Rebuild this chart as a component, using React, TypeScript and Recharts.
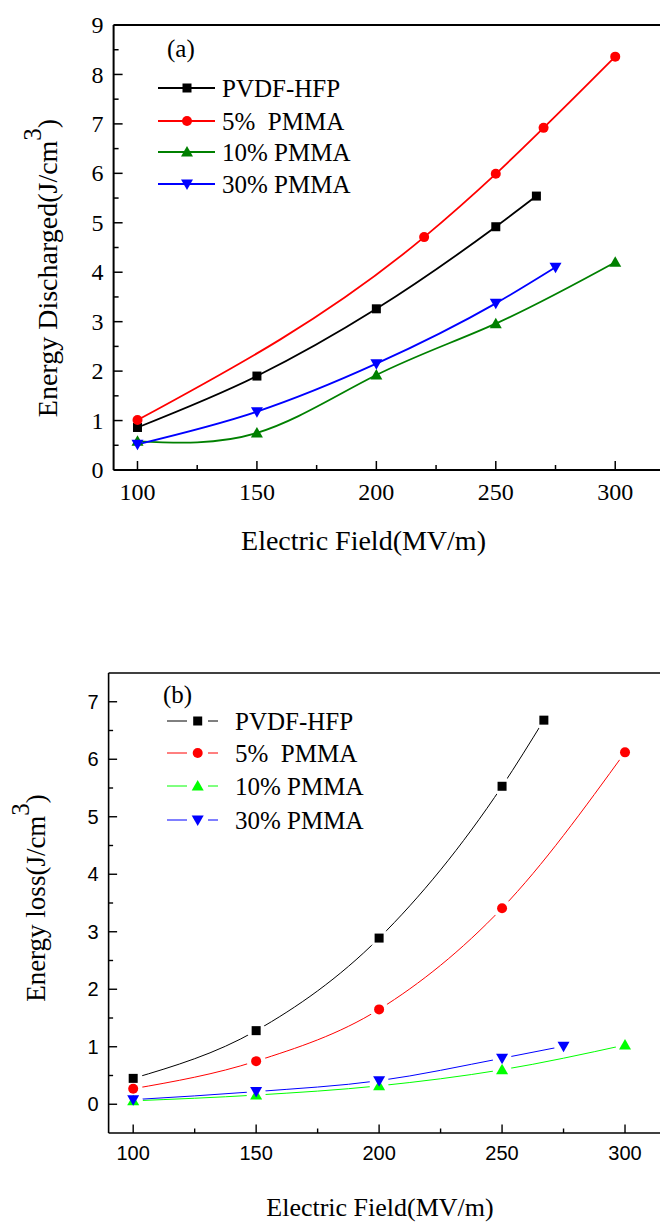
import React from 'react';
import { LineChart, Line, XAxis, YAxis, Legend } from 'recharts';

const SERIF = '"Liberation Serif", "Times New Roman", serif';
const SANS = '"Liberation Sans", Arial, sans-serif';

const seriesNames = ['PVDF-HFP', '5%  PMMA', '10% PMMA', '30% PMMA'];
const markerShapes = ['square', 'circle', 'up', 'down'];
const colorsA = ['#000000', '#ff0000', '#008000', '#0000ff'];
const colorsB = ['#000000', '#ff0000', '#00ff00', '#0000ff'];
const curvesA = ['monotone', 'monotone', 'natural', 'monotone'];
const curvesB = ['monotone', 'monotone', 'monotone', 'monotone'];

// (a) energy discharged
const fieldA_pvdf = [100, 150, 200, 250, 267];
const energyA_pvdf = [0.86, 1.9, 3.26, 4.92, 5.54];
const fieldA_5 = [100, 220, 250, 270, 300];
const energyA_5 = [1.01, 4.71, 5.99, 6.92, 8.36];
const fieldA_10 = [100, 150, 200, 250, 300];
const energyA_10 = [0.58, 0.75, 1.92, 2.96, 4.2];
const fieldA_30 = [100, 150, 200, 250, 275];
const energyA_30 = [0.52, 1.18, 2.15, 3.37, 4.1];

// (b) energy loss
const fieldB_pvdf = [100, 150, 200, 250, 267];
const lossB_pvdf = [0.45, 1.28, 2.89, 5.53, 6.68];
const fieldB_5 = [100, 150, 200, 250, 300];
const lossB_5 = [0.27, 0.75, 1.65, 3.41, 6.12];
const fieldB_10 = [100, 150, 200, 250, 300];
const lossB_10 = [0.06, 0.16, 0.32, 0.6, 1.03];
const fieldB_30 = [100, 150, 200, 250, 275];
const lossB_30 = [0.08, 0.22, 0.41, 0.8, 1.01];

const xTicks = [100, 125, 150, 175, 200, 225, 250, 275, 300];
const yTicksA = [0, 0.5, 1, 1.5, 2, 2.5, 3, 3.5, 4, 4.5, 5, 5.5, 6, 6.5, 7, 7.5, 8, 8.5, 9];
const yTicksB = [0, 0.5, 1, 1.5, 2, 2.5, 3, 3.5, 4, 4.5, 5, 5.5, 6, 6.5, 7];

type Pt = { x: number; y: number };
const toPoints = (xs: number[], ys: number[]): Pt[] => xs.map((x, i) => ({ x, y: ys[i] }));

const dataA = [
  toPoints(fieldA_pvdf, energyA_pvdf),
  toPoints(fieldA_5, energyA_5),
  toPoints(fieldA_10, energyA_10),
  toPoints(fieldA_30, energyA_30),
];
const dataB = [
  toPoints(fieldB_pvdf, lossB_pvdf),
  toPoints(fieldB_5, lossB_5),
  toPoints(fieldB_10, lossB_10),
  toPoints(fieldB_30, lossB_30),
];

const Marker = ({ cx, cy, shape, color }: { cx: number; cy: number; shape: string; color: string }) => {
  if (cx == null || cy == null) return null;
  if (shape === 'square') return <rect x={cx - 4.5} y={cy - 4.5} width={9} height={9} fill={color} />;
  if (shape === 'circle') return <circle cx={cx} cy={cy} r={5} fill={color} />;
  if (shape === 'up')
    return <polygon points={`${cx},${cy - 6} ${cx - 6},${cy + 4.5} ${cx + 6},${cy + 4.5}`} fill={color} />;
  return <polygon points={`${cx},${cy + 6} ${cx - 6},${cy - 4.5} ${cx + 6},${cy - 4.5}`} fill={color} />;
};

const isMajor = (v: number, step: number) => Math.abs(v / step - Math.round(v / step)) < 1e-6;

// inward ticks, labels outside
const xTick = (font: string, size: number, labelDy: number, major: number, minor: number, sw: number) =>
  (props: any) => {
    const { x, y, payload } = props;
    const big = isMajor(payload.value, 50);
    return (
      <g>
        <line x1={x} x2={x} y1={y} y2={y - (big ? major : minor)} stroke="#000" strokeWidth={sw} />
        {big && (
          <text x={x} y={y + labelDy} textAnchor="middle" style={{ fontFamily: font }} fontSize={size} fill="#000">
            {payload.value}
          </text>
        )}
      </g>
    );
  };

const yTick = (font: string, size: number, gap: number, major: number, minor: number, sw: number) =>
  (props: any) => {
    const { x, y, payload } = props;
    const big = isMajor(payload.value, 1);
    return (
      <g>
        <line x1={x} x2={x + (big ? major : minor)} y1={y} y2={y} stroke="#000" strokeWidth={sw} />
        {big && (
          <text x={x - gap} y={y} dy="0.34em" textAnchor="end" style={{ fontFamily: font }} fontSize={size} fill="#000">
            {payload.value}
          </text>
        )}
      </g>
    );
  };

const LegendA = () => {
  const rows = [68, 101, 132, 164];
  return (
    <svg width={280} height={190}>
      <text x={17} y={37} style={{ fontFamily: SERIF }} fontSize={25} fill="#000">(a)</text>
      {seriesNames.map((name, i) => (
        <g key={name}>
          <line x1={8} x2={65} y1={rows[i]} y2={rows[i]} stroke={colorsA[i]} strokeWidth={2} />
          <Marker cx={37} cy={rows[i]} shape={markerShapes[i]} color={colorsA[i]} />
          <text x={72} y={rows[i] + 8.5} fontSize={25} fill="#000" style={{ fontFamily: SERIF, whiteSpace: 'pre' }}>
            {name}
          </text>
        </g>
      ))}
    </svg>
  );
};

const LegendB = () => {
  const rows = [51, 83, 116, 150];
  return (
    <svg width={280} height={180}>
      <text x={8} y={33} style={{ fontFamily: SERIF }} fontSize={25} fill="#000">(b)</text>
      {seriesNames.map((name, i) => (
        <g key={name}>
          <line x1={12} x2={32} y1={rows[i]} y2={rows[i]} stroke={colorsB[i]} strokeWidth={1} />
          <line x1={53} x2={63} y1={rows[i]} y2={rows[i]} stroke={colorsB[i]} strokeWidth={1} />
          <Marker cx={42.7} cy={rows[i]} shape={markerShapes[i]} color={colorsB[i]} />
          <text x={80} y={rows[i] + 8.5} fontSize={25} fill="#000" style={{ fontFamily: SERIF, whiteSpace: 'pre' }}>
            {name}
          </text>
        </g>
      ))}
    </svg>
  );
};

const ChartA = () => (
  <LineChart width={700} height={600} margin={{ top: 24, right: 37, bottom: 70, left: 53.6 }}>
    <XAxis
      type="number"
      dataKey="x"
      domain={[90, 320]}
      allowDataOverflow
      ticks={xTicks}
      interval={0}
      height={60}
      tickSize={0}
      tickMargin={0}
      tickLine={false}
      axisLine={{ stroke: '#000', strokeWidth: 2 }}
      tick={xTick(SERIF, 24, 30, 9, 5, 1.5)}
    />
    <XAxis xAxisId="top" orientation="top" type="number" domain={[90, 320]} height={1} tick={false} tickLine={false}
      axisLine={{ stroke: '#000', strokeWidth: 2 }} />
    <YAxis
      type="number"
      domain={[0, 9]}
      allowDataOverflow
      ticks={yTicksA}
      interval={0}
      width={60}
      tickSize={0}
      tickMargin={0}
      tickLine={false}
      axisLine={{ stroke: '#000', strokeWidth: 2 }}
      tick={yTick(SERIF, 24, 10, 9, 5, 1.5)}
    />
    {dataA.map((pts, i) => (
      <Line
        key={seriesNames[i]}
        data={pts}
        dataKey="y"
        type={curvesA[i] as any}
        stroke={colorsA[i]}
        strokeWidth={1.8}
        isAnimationActive={false}
        activeDot={false}
        dot={(p: any) => (
          <Marker key={`a${i}-${p.index}`} cx={p.cx} cy={p.cy} shape={markerShapes[i]} color={colorsA[i]} />
        )}
      />
    ))}
    <Legend layout="vertical" align="center" verticalAlign="middle"
      wrapperStyle={{ top: 20, left: 150, width: 280, height: 190 }} content={() => <LegendA />} />
  </LineChart>
);

const ChartB = () => (
  <LineChart width={720} height={582} margin={{ top: 32, right: 45.8, bottom: 29, left: 48.6 }}>
    <XAxis
      type="number"
      dataKey="x"
      domain={[90, 320]}
      allowDataOverflow
      ticks={xTicks}
      interval={0}
      height={60}
      tickSize={0}
      tickMargin={0}
      tickLine={false}
      axisLine={{ stroke: '#000', strokeWidth: 1.6 }}
      tick={xTick(SANS, 20, 27, 8.5, 4.5, 1.4)}
    />
    <XAxis xAxisId="top" orientation="top" type="number" domain={[90, 320]} height={1} tick={false} tickLine={false}
      axisLine={{ stroke: '#000', strokeWidth: 1.6 }} />
    <YAxis
      type="number"
      domain={[-0.5, 7.5]}
      allowDataOverflow
      ticks={yTicksB}
      interval={0}
      width={60}
      tickSize={0}
      tickMargin={0}
      tickLine={false}
      axisLine={{ stroke: '#000', strokeWidth: 1.6 }}
      tick={yTick(SANS, 20, 10, 8.5, 4.5, 1.4)}
    />
    {dataB.map((pts, i) => (
      <Line key={`l-${i}`} data={pts} dataKey="y" type={curvesB[i] as any} stroke={colorsB[i]} strokeWidth={1}
        isAnimationActive={false} activeDot={false} dot={false} legendType="none" />
    ))}
    {dataB.map((pts, i) => (
      <Line key={`h-${i}`} data={pts} dataKey="y" stroke="none" isAnimationActive={false}
        activeDot={false} legendType="none"
        dot={(p: any) => <circle key={`h${i}-${p.index}`} cx={p.cx} cy={p.cy} r={9.5} fill="#fff" />} />
    ))}
    {dataB.map((pts, i) => (
      <Line key={`m-${i}`} data={pts} dataKey="y" stroke="none" isAnimationActive={false}
        activeDot={false} legendType="none"
        dot={(p: any) => (
          <Marker key={`b${i}-${p.index}`} cx={p.cx} cy={p.cy} shape={markerShapes[i]} color={colorsB[i]} />
        )} />
    ))}
    <Legend layout="vertical" align="center" verticalAlign="middle"
      wrapperStyle={{ top: 30, left: 155, width: 280, height: 180 }} content={() => <LegendB />} />
  </LineChart>
);

export default function App() {
  return (
    <div style={{ position: 'absolute', left: 0, top: 0, width: 660, height: 1222, overflow: 'hidden', background: '#fff' }}>
      <div style={{ position: 'absolute', left: 0, top: 0 }}>
        <ChartA />
      </div>
      <div style={{ position: 'absolute', left: 0, top: 640 }}>
        <ChartB />
      </div>
      <svg width={660} height={1222} style={{ position: 'absolute', left: 0, top: 0, pointerEvents: 'none' }}>
        <text x={363.5} y={550} textAnchor="middle" style={{ fontFamily: SERIF }} fontSize={28} fill="#000">
          Electric Field(MV/m)
        </text>
        <text transform="translate(57,268) rotate(-90)" textAnchor="middle" style={{ fontFamily: SERIF }} fontSize={28} fill="#000">
          Energy Discharged(J/cm<tspan dy={-16} fontSize={25}>3</tspan><tspan dy={16}>)</tspan>
        </text>
        <text x={380} y={1216} textAnchor="middle" style={{ fontFamily: SERIF }} fontSize={26} fill="#000">
          Electric Field(MV/m)
        </text>
        <text transform="translate(45,898) rotate(-90)" textAnchor="middle" style={{ fontFamily: SERIF }} fontSize={27} fill="#000">
          Energy loss(J/cm<tspan dy={-16} fontSize={25}>3</tspan><tspan dy={16}>)</tspan>
        </text>
      </svg>
    </div>
  );
}
